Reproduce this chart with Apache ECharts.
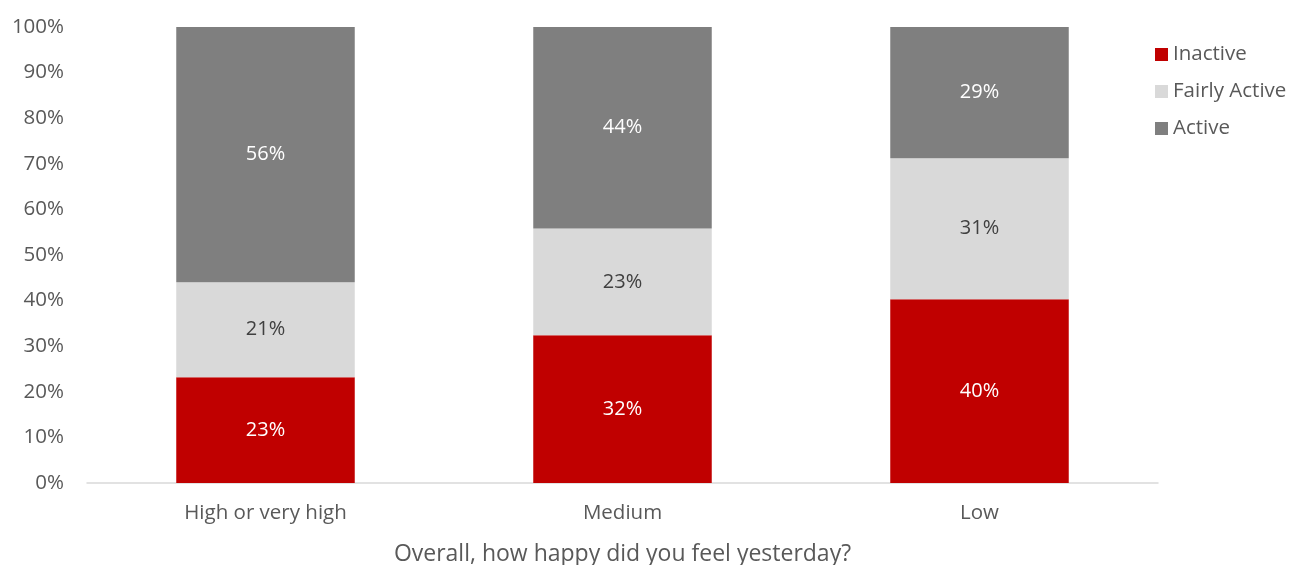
<!DOCTYPE html>
<html><head><meta charset="utf-8">
<script src="https://cdn.jsdelivr.net/npm/echarts@6/dist/echarts.min.js"></script>
<style>html,body{margin:0;padding:0;background:#fff}#c{width:1292px;height:565px}</style>
</head><body><div id="c"></div>
<script>
const categories = ["High or very high", "Medium", "Low"];
const inactive = [23.2, 32.4, 40.3];
const fairlyActive = [20.8, 23.4, 30.9];
const active = [56.0, 44.2, 28.8];
const yTicks = [0, 10, 20, 30, 40, 50, 60, 70, 80, 90, 100];
const xTitle = "Overall, how happy did you feel yesterday?";

const font = "'Open Sans', 'Noto Sans', sans-serif";
const chart = echarts.init(document.getElementById('c'));
function lbl(color){
  return {show:true, position:'inside', color:color, fontFamily:font, fontSize:20,
    formatter: p => Math.round(p.value) + '%'};
}
chart.setOption({
  animation:false,
  textStyle:{fontFamily:font},
  grid:{left:87, right:134, top:27, bottom:82, containLabel:false, outerBoundsMode:'none'},
  legend:{
    orient:'vertical', left:1150, top:39, itemWidth:13, itemHeight:13, itemGap:16,
    icon:'rect', itemTextGap:8, textStyle:{color:'#595959', fontSize:20.5, fontFamily:font},
    data:['Inactive','Fairly Active','Active']
  },
  xAxis:{
    type:'category', data:categories,
    axisLine:{show:true, lineStyle:{color:'#D9D9D9', width:1.5}},
    axisTick:{show:false},
    axisLabel:{color:'#595959', fontSize:20.5, fontFamily:font, margin:20},
    name:xTitle, nameLocation:'middle', nameGap:60,
    nameTextStyle:{color:'#595959', fontSize:23, fontFamily:font}
  },
  yAxis:{
    type:'value', min:yTicks[0], max:yTicks[yTicks.length-1], interval:10,
    axisLine:{show:false}, axisTick:{show:false}, splitLine:{show:false},
    axisLabel:{color:'#595959', fontSize:20.5, fontFamily:font, margin:23, formatter:'{value}%'}
  },
  series:[
    {name:'Inactive', type:'bar', stack:'s', data:inactive, barWidth:'50%',
     itemStyle:{color:'#C00000'}, label:lbl('#FFFFFF')},
    {name:'Fairly Active', type:'bar', stack:'s', data:fairlyActive,
     itemStyle:{color:'#D9D9D9'}, label:lbl('#404040')},
    {name:'Active', type:'bar', stack:'s', data:active,
     itemStyle:{color:'#7F7F7F'}, label:lbl('#FFFFFF')}
  ]
});
</script></body></html>
